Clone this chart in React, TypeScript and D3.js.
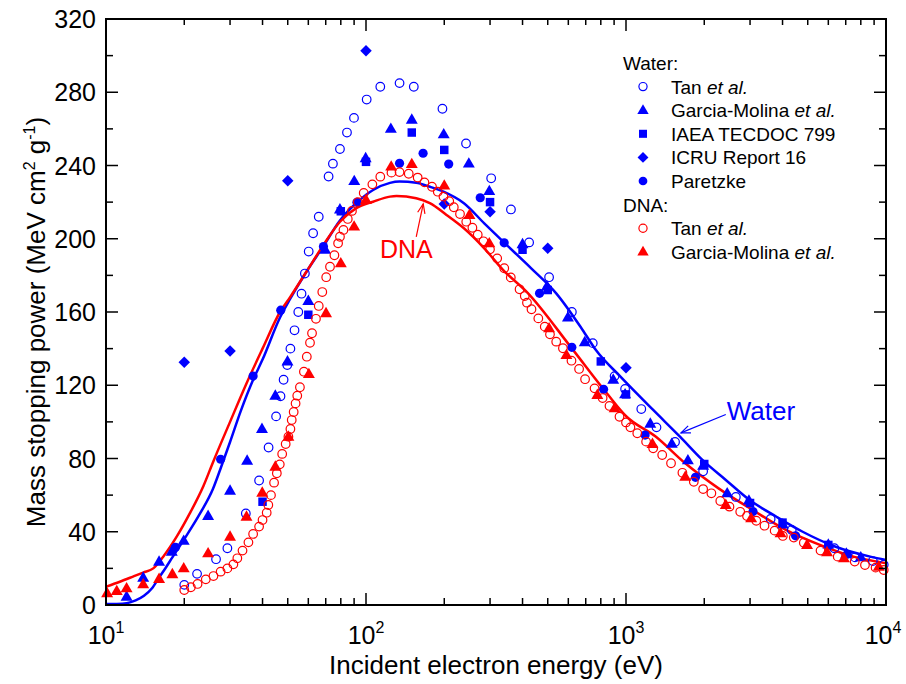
import React from 'react';
import * as d3 from 'd3';

type P = [number, number];

// Water: Tan et al. (open blue circles)
const waterTan: P[] = [
  [20, 11], [22.4, 17], [26.5, 25], [29.3, 31], [34.5, 50], [38.8, 68], [42.2, 86], [45.1, 103],
  [46.9, 114], [48.2, 123], [49.8, 131], [51.2, 140], [53.1, 150], [54.9, 160], [56.5, 170],
  [58.2, 181], [60.2, 193], [62.6, 203], [65.8, 212], [71.8, 234], [74.6, 241], [79.4, 249],
  [84.5, 258], [89.9, 266], [100.6, 276], [113.5, 283], [134.6, 285], [152.7, 283], [196.8, 271],
  [242.5, 252], [303, 233], [361, 216], [424, 198], [506, 179], [619, 160], [745, 143], [904, 125],
  [992, 118], [1145, 107], [1310, 97], [1544, 89], [1980, 73], [2645, 59], [3600, 47], [4340, 41],
  [6330, 31], [7600, 26], [8900, 24], [9800, 22],
];

// Water: Garcia-Molina et al. (filled blue triangles)
const waterGM: P[] = [
  [12, 4.5], [13.9, 14.9], [16, 23.6], [17.9, 29.1], [19.9, 35], [24.7, 48.6], [30, 62.4],
  [34.9, 78.8], [39.8, 96.1], [44.8, 114.3], [49.9, 133], [60, 166], [69.6, 194], [79.4, 216],
  [90.1, 231.5], [99.7, 244], [124.6, 260], [150, 265], [199, 257], [248.6, 241], [298, 226],
  [400, 197], [497, 174], [598, 157], [694, 143.5], [893, 123], [992, 115], [1240, 99], [1500, 88],
  [1730, 79], [1980, 76], [2450, 61], [2970, 57], [4010, 44], [6000, 33], [7040, 28], [8000, 26],
];

// Water: IAEA TECDOC 799 (filled blue squares)
const waterIAEA: P[] = [
  [40, 56.4], [60, 158.5], [80, 215], [100, 242], [150, 258], [200, 248.5], [300, 220], [400, 194],
  [500, 172], [800, 133], [1000, 115], [2000, 77], [3000, 55.7], [4000, 45], [6000, 32.8],
];

// Water: ICRU Report 16 (filled blue diamonds)
const waterICRU: P[] = [
  [20, 132.5], [30, 138.7], [50, 231.7], [100, 302.7], [200, 219], [300, 214.8], [500, 194.8],
  [1000, 129.6],
];

// Water: Paretzke (filled blue circles)
const waterParetzke: P[] = [
  [18.5, 31.5], [27.6, 79.6], [36.8, 125], [47, 161], [68.6, 195.7], [92.3, 219.9], [134.6, 241.2],
  [165.8, 246.7], [208, 240.8], [275, 222.4], [340, 197.8], [465, 170.2], [619, 140.7], [820, 117.8],
  [1184, 92.8], [1850, 69.7], [3080, 51], [4490, 37.8], [7100, 27.7],
];

// DNA: Tan et al. (open red circles)
const dnaTan: P[] = [
  [20, 8.2], [21.2, 9.7], [22.5, 11.5], [24.2, 14], [25.9, 15.8], [27.6, 18.2], [29.3, 20],
  [30.9, 22.2], [32, 25.5], [33.5, 29.7], [35.3, 34.2], [36.8, 38.8], [38.8, 42.8], [40, 46.4],
  [41.5, 50.4], [42.1, 54.6], [43.1, 60], [44.3, 66.8], [45.4, 71.9], [46.6, 76.8], [47.6, 82.5],
  [49.1, 87.9], [50.3, 91.9], [51.2, 96.1], [51.8, 101], [52.7, 105.4], [53.6, 110.1], [54.4, 114.3],
  [55.7, 118.9], [57.7, 127.4], [59.2, 135.6], [60.9, 143.2], [62, 148.4], [64.2, 156.3],
  [65.8, 163.3], [67.9, 170.9], [70.3, 179], [72.7, 184.7], [75.6, 191], [78.1, 197.5],
  [79.4, 201.1], [81.9, 204.8], [85.1, 210.8], [88.3, 215.2], [93, 220], [98, 225], [105.8, 229.7],
  [113.5, 233.9], [125.3, 236.1], [134.6, 236.4], [146, 235.5], [158, 233.4], [167.8, 230.8],
  [179.4, 228.4], [188.8, 225.7], [198.6, 223], [209, 220.5], [217.6, 217.2], [229.9, 213.5],
  [243, 209.3], [256.6, 206], [269, 202.2], [283, 198.6], [299.8, 194.2], [319.6, 189.3],
  [340.2, 183.9], [360.5, 178.9], [389.6, 172.4], [408, 168.7], [416, 165.1], [433, 161.5],
  [460, 156.5], [487, 152], [510, 147.8], [539, 143.8], [572, 140.2], [617, 133.4], [660, 128.9],
  [696, 123.3], [757, 118.3], [813, 113], [864, 108.7], [944, 102.8], [1000, 99.7], [1040, 97],
  [1105, 93.8], [1195, 89.2], [1272, 85.6], [1378, 81.9], [1490, 77.4], [1648, 72.2], [1823, 67.3],
  [1980, 63.3], [2130, 61], [2305, 56.8], [2500, 53.7], [2750, 50.9], [2920, 48.6], [3170, 46],
  [3410, 43.3], [3730, 40.6], [4010, 37.7], [4420, 36.8], [4830, 34], [5600, 29.7], [6520, 26.4],
  [7580, 23.7], [8300, 21.8], [9120, 20.4], [9800, 19.1],
];

// DNA: Garcia-Molina et al. (filled red triangles)
const dnaGM: P[] = [
  [10.1, 6.4], [11, 7.6], [12, 9.1], [13.9, 11.3], [16, 14.2], [18, 16.8], [19.9, 20], [24.7, 28.2],
  [30, 37.3], [34.7, 48.2], [39.9, 61.3], [44.8, 75.5], [50.3, 91.9], [60.3, 126.1], [70.2, 159.3],
  [80, 186.6], [90, 206.6], [100, 221.2], [125, 239.4], [150, 240.8], [200, 229], [250, 213],
  [298, 197.5], [506, 151.1], [590, 136.5], [776, 114.7], [904, 107.4], [1264, 87.9], [1690, 70],
  [2420, 54.6], [3030, 47.3], [3930, 39.2], [4970, 32.8], [5930, 28.8], [6890, 25.5], [9380, 20.9],
];

// Model curves
const waterCurve: P[] = [
  [10, 0.5], [11, 0.6], [12, 1], [13, 2.5], [14, 5], [15, 9], [16, 15], [17, 20.5], [18, 26],
  [20, 36], [23, 50], [25.8, 63.5], [27.5, 74], [30, 89], [33, 106], [36.8, 123], [40, 134],
  [46.7, 157], [51, 167], [59, 182], [68.6, 196], [79.4, 210], [91.8, 219.5], [106.5, 226.6],
  [123.7, 230.5], [134.6, 231.2], [156, 230.6], [175, 228.5], [198.6, 225.7], [238, 219.4],
  [285, 208.4], [337, 198.4], [431, 184], [539, 170.2], [681, 150.2], [766, 139.2], [952, 124.7],
  [1272, 106.5], [1613, 91.9], [1967, 79.2], [2420, 68.3], [2990, 57.3], [3790, 48.2], [4780, 40],
  [6400, 31.8], [8700, 26.4], [10000, 24.6],
];

const dnaCurve: P[] = [
  [10, 10], [11.3, 12.7], [12.7, 15.5], [13.9, 17.7], [15.2, 20], [16.6, 26.4], [18.7, 37.3],
  [21, 50], [23.7, 65], [25.8, 78], [30, 100], [34.7, 121], [40, 140], [46.7, 160], [51, 168],
  [59, 182], [68.6, 196.6], [79.4, 209.3], [91.8, 216.7], [106.5, 220.2], [123.7, 223], [131, 223.3],
  [156, 222.1], [176, 219.4], [204, 213], [238, 205.7], [285, 194.8], [337, 182.9], [415, 171],
  [620, 140], [844, 115.6], [1006, 102.8], [1300, 92], [1690, 77.4], [2270, 63.7], [3070, 51.9],
  [4120, 41], [5570, 32.8], [7500, 26.4], [10000, 22.8],
];

const yTicks = [0, 40, 80, 120, 160, 200, 240, 280, 320];
const xDecades = [10, 100, 1000, 10000];
const xExponents = ['1', '2', '3', '4'];

const BLUE = '#0000ff';
const RED = '#ff0000';
const FONT = '"Liberation Sans", Arial, Helvetica, sans-serif';

type Kind = 'open' | 'tri' | 'square' | 'diamond' | 'dot';

const legendRows: { kind: Kind | 'head'; color: string; label: string; italic?: string }[] = [
  { kind: 'head', color: '#000', label: 'Water:' },
  { kind: 'open', color: BLUE, label: 'Tan ', italic: 'et al.' },
  { kind: 'tri', color: BLUE, label: 'Garcia-Molina ', italic: 'et al.' },
  { kind: 'square', color: BLUE, label: 'IAEA TECDOC 799' },
  { kind: 'diamond', color: BLUE, label: 'ICRU Report 16' },
  { kind: 'dot', color: BLUE, label: 'Paretzke' },
  { kind: 'head', color: '#000', label: 'DNA:' },
  { kind: 'open', color: RED, label: 'Tan ', italic: 'et al.' },
  { kind: 'tri', color: RED, label: 'Garcia-Molina ', italic: 'et al.' },
];

function Marker({ kind, color, cx, cy, s = 1 }: { kind: Kind; color: string; cx: number; cy: number; s?: number }) {
  if (kind === 'open')
    return <circle cx={cx} cy={cy} r={4.3 * s} fill="none" stroke={color} strokeWidth={1.2} />;
  if (kind === 'dot') return <circle cx={cx} cy={cy} r={4.6 * s} fill={color} />;
  if (kind === 'tri') {
    const p = d3.symbol().type(d3.symbolTriangle).size(62 * s * s)() as string;
    return <path d={p} transform={`translate(${cx},${cy + 0.5})`} fill={color} />;
  }
  if (kind === 'square') {
    const p = d3.symbol().type(d3.symbolSquare).size(72 * s * s)() as string;
    return <path d={p} transform={`translate(${cx},${cy})`} fill={color} />;
  }
  const p = d3.symbol().type(d3.symbolSquare).size(66 * s * s)() as string;
  return <path d={p} transform={`translate(${cx},${cy}) rotate(45)`} fill={color} />;
}

function Arrow({ x1, y1, x2, y2, color }: { x1: number; y1: number; x2: number; y2: number; color: string }) {
  const a = Math.atan2(y2 - y1, x2 - x1);
  const L = 10, w = 0.38;
  const p1 = [x2 - L * Math.cos(a - w), y2 - L * Math.sin(a - w)];
  const p2 = [x2 - L * Math.cos(a + w), y2 - L * Math.sin(a + w)];
  return (
    <g stroke={color} strokeWidth={1.2} fill="none">
      <line x1={x1} y1={y1} x2={x2} y2={y2} />
      <polyline points={`${p1[0]},${p1[1]} ${x2},${y2} ${p2[0]},${p2[1]}`} />
    </g>
  );
}

export default function App() {
  const L = 106, R = 886, T = 19, B = 605;
  const x = d3.scaleLog().domain([10, 1e4]).range([L, R]);
  const y = d3.scaleLinear().domain([0, 320]).range([B, T]);
  const line = d3.line<P>().x(d => x(d[0])).y(d => y(d[1])).curve(d3.curveMonotoneX);

  const minorX: number[] = [];
  for (const dec of [10, 100, 1000]) for (let k = 2; k <= 9; k++) minorX.push(dec * k);
  const yMinor = d3.range(20, 320, 40);

  const series: { data: P[]; kind: Kind; color: string }[] = [
    { data: waterTan, kind: 'open', color: BLUE },
    { data: waterGM, kind: 'tri', color: BLUE },
    { data: waterIAEA, kind: 'square', color: BLUE },
    { data: waterICRU, kind: 'diamond', color: BLUE },
    { data: waterParetzke, kind: 'dot', color: BLUE },
    { data: dnaTan, kind: 'open', color: RED },
    { data: dnaGM, kind: 'tri', color: RED },
  ];

  return (
    <svg width={906} height={684} style={{ position: 'absolute', left: 0, top: 0, background: '#fff' }}
      fontFamily={FONT}>
      <rect x={0} y={0} width={906} height={684} fill="#fff" />
      {/* curves */}
      <path d={line(waterCurve) as string} fill="none" stroke={BLUE} strokeWidth={2.5} />
      <path d={line(dnaCurve) as string} fill="none" stroke={RED} strokeWidth={2.5} />
      {/* markers */}
      {series.map((s, i) => (
        <g key={i}>
          {s.data.map((d, j) => (
            <Marker key={j} kind={s.kind} color={s.color} cx={x(d[0])} cy={y(d[1])} />
          ))}
        </g>
      ))}
      {/* annotations */}
      <text x={x(143)} y={y(189.5)} fill={RED} fontSize={25} textAnchor="middle">DNA</text>
      <Arrow x1={x(156)} y1={y(201)} x2={x(166)} y2={y(219)} color={RED} />
      <text x={x(2440)} y={y(101)} fill={BLUE} fontSize={26}>Water</text>
      <Arrow x1={x(2420)} y1={y(104)} x2={x(1627)} y2={y(94)} color={BLUE} />

      {/* frame */}
      <rect x={L} y={T} width={R - L} height={B - T} fill="none" stroke="#000" strokeWidth={2} />
      {/* ticks */}
      <g stroke="#000" strokeWidth={1.5}>
        {xDecades.map(v => (
          <g key={'M' + v}>
            <line x1={x(v)} x2={x(v)} y1={B} y2={B - 12} />
            <line x1={x(v)} x2={x(v)} y1={T} y2={T + 12} />
          </g>
        ))}
        {minorX.map(v => (
          <g key={'m' + v}>
            <line x1={x(v)} x2={x(v)} y1={B} y2={B - 7} />
            <line x1={x(v)} x2={x(v)} y1={T} y2={T + 6} />
          </g>
        ))}
        {yTicks.map(v => (
          <g key={'Y' + v}>
            <line x1={L} x2={L + 12} y1={y(v)} y2={y(v)} />
            <line x1={R} x2={R - 12} y1={y(v)} y2={y(v)} />
          </g>
        ))}
        {yMinor.map(v => (
          <g key={'y' + v}>
            <line x1={L} x2={L + 7} y1={y(v)} y2={y(v)} />
            <line x1={R} x2={R - 7} y1={y(v)} y2={y(v)} />
          </g>
        ))}
      </g>
      {/* y tick labels */}
      {yTicks.map(v => (
        <text key={'yl' + v} x={96} y={y(v) + 9} fontSize={25} textAnchor="end" fill="#000">{v}</text>
      ))}
      {/* x tick labels */}
      {xDecades.map((v, i) => (
        <text key={'xl' + v} x={x(v) - (i === 3 ? 3 : 0)} y={644} fontSize={25} textAnchor="middle" fill="#000">
          10<tspan fontSize={16} dy={-11}>{xExponents[i]}</tspan>
        </text>
      ))}
      {/* axis titles */}
      <text x={(L + R) / 2} y={674} fontSize={26} textAnchor="middle" fill="#000">
        Incident electron energy (eV)
      </text>
      <text transform={`translate(45,${(T + B) / 2 + 10}) rotate(-90)`} fontSize={26} textAnchor="middle" fill="#000">
        Mass stopping power (MeV cm<tspan fontSize={16} dy={-10}>2</tspan>
        <tspan dy={10}> g</tspan><tspan fontSize={16} dy={-10}>-1</tspan><tspan dy={10}>)</tspan>
      </text>
      {/* legend */}
      {legendRows.map((r, i) => {
        const cy = 63 + i * 23.6;
        if (r.kind === 'head')
          return <text key={'lg' + i} x={623} y={cy + 7} fontSize={19} fill="#000">{r.label}</text>;
        return (
          <g key={'lg' + i}>
            <Marker kind={r.kind} color={r.color} cx={643} cy={cy} s={0.95} />
            <text x={671} y={cy + 7} fontSize={19} fill="#000">
              {r.label}{r.italic ? <tspan fontStyle="italic">{r.italic}</tspan> : null}
            </text>
          </g>
        );
      })}
    </svg>
  );
}
